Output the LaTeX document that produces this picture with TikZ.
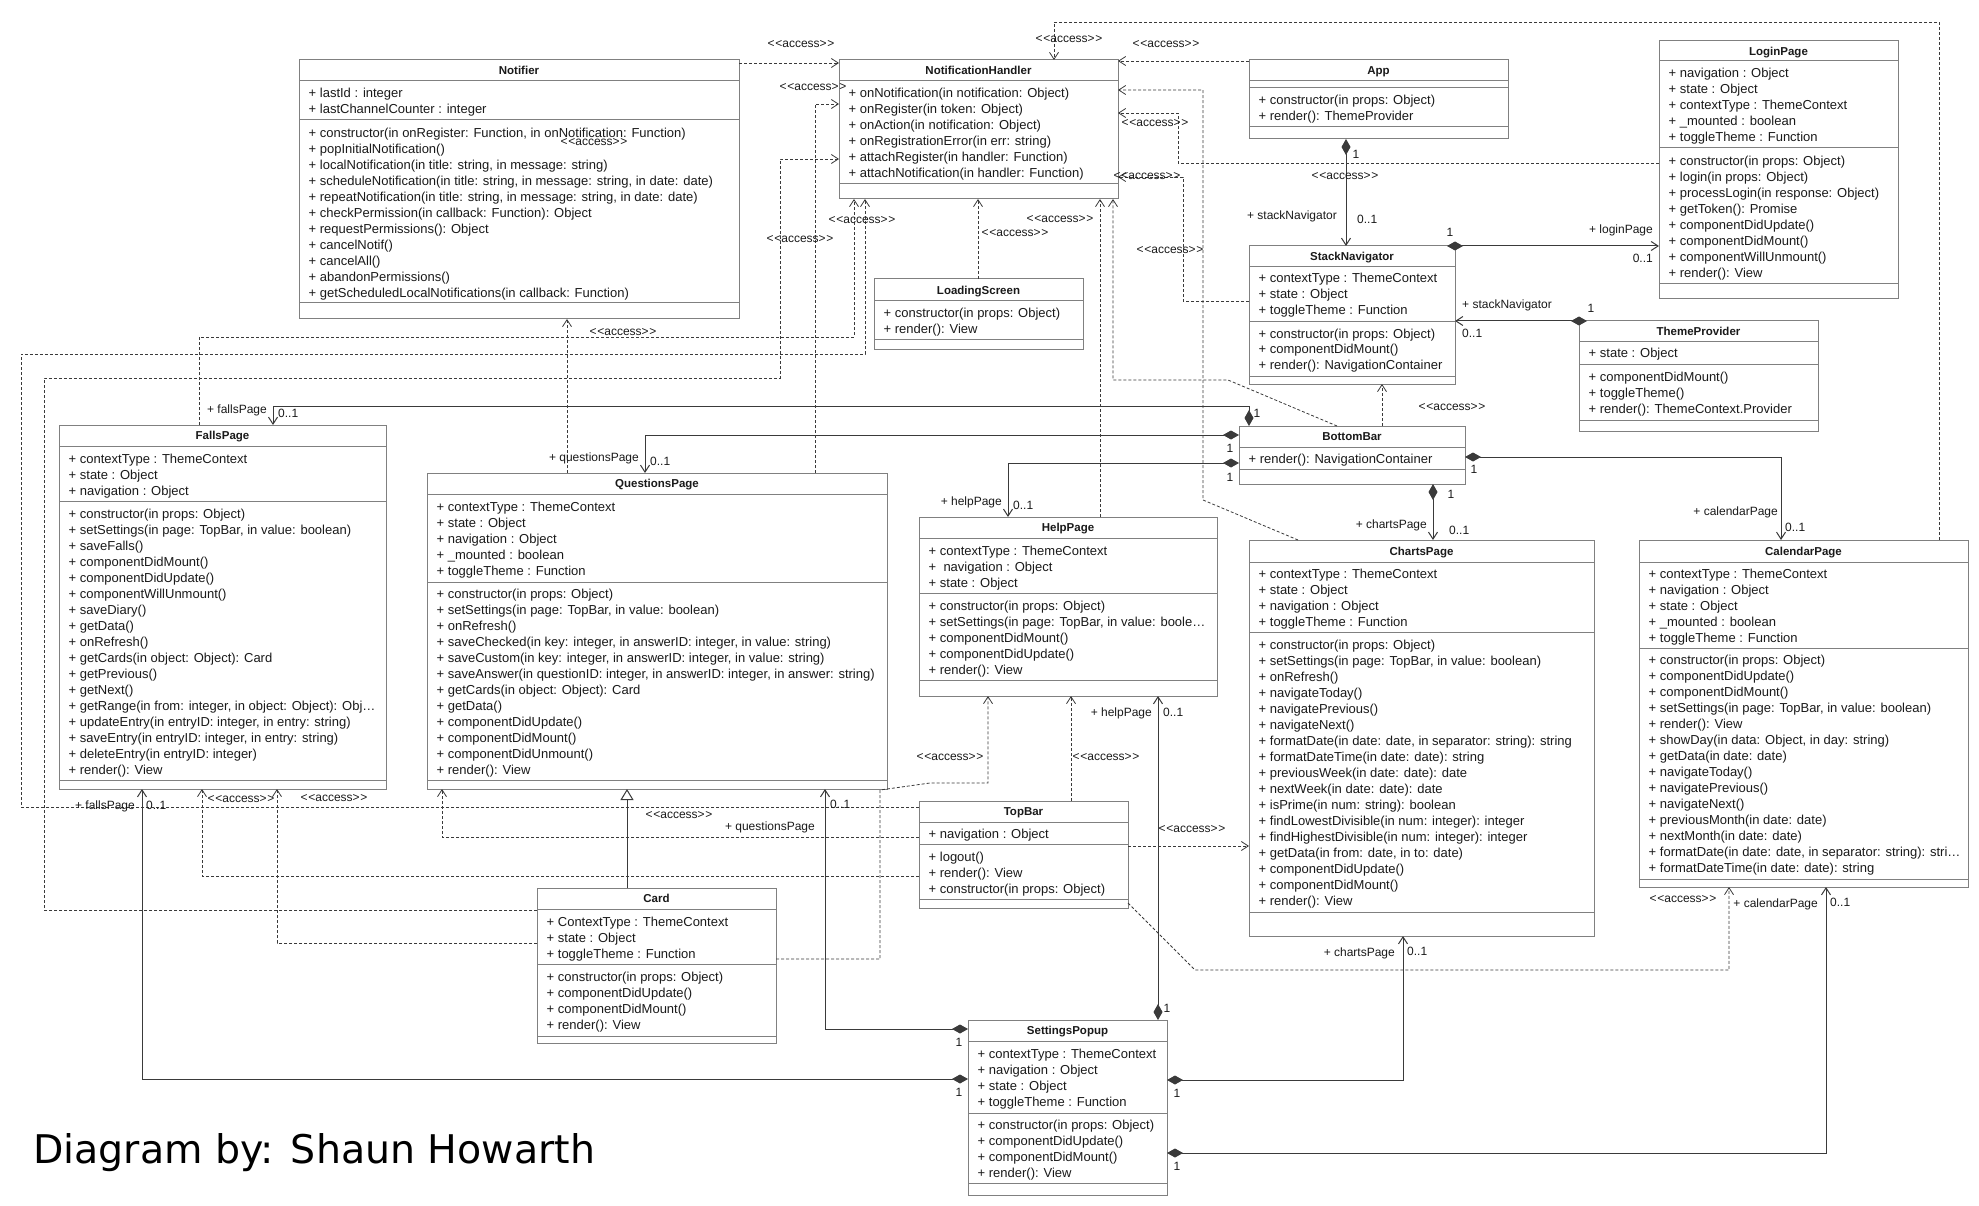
\documentclass[tikz,border=0pt]{standalone}
\usepackage{fontspec}
\setmainfont{Liberation Sans}
\newfontfamily\titlefont{DejaVu Sans}
\usetikzlibrary{arrows.meta,fit}
\definecolor{boxc}{HTML}{808080}
\definecolor{linec}{HTML}{3A3A3A}
\definecolor{txtc}{HTML}{1A1A1A}
\newcommand\accesstxt{<\kern0.6pt<access>\kern0.6pt>}
\tikzset{
 box/.style={draw=boxc, line width=1pt, inner sep=0pt, outer sep=0pt, fill=white},
 sepline/.style={draw=boxc, line width=1pt},
 hdr/.style={anchor=base, inner sep=0pt, font=\fontsize{11.5}{13}\selectfont\bfseries, text=txtc},
 txt/.style={anchor=base west, inner sep=0pt, font=\fontsize{13}{15}\selectfont, text=txtc},
 lbl/.style={inner sep=0pt, font=\fontsize{12}{14}\selectfont, text=txtc},
 assoc/.style={draw=linec, line width=1pt, {Diamond[length=16pt,width=9pt]}-{Straight Barb[length=7pt,width=9pt]}},
 dep/.style={draw=linec, line width=0.8pt, dash pattern=on 3pt off 2pt, -{Straight Barb[length=7pt,width=9pt]}},
 gen/.style={draw=linec, line width=1pt, -{Triangle[open,fill=white,length=11pt,width=13pt]}},
}
\newcommand\umlclass[7]{%
 \node[box, fit={(#2,#3)(#4,#5)}] (#1) {};
 \draw[sepline] (#2,#6) -- (#4,#6);
 \node[hdr] (#1-t) at ({(#2+#4)/2},{(#3+#6)/2+4.2}) {#7};
}
\newcommand\umlsep[3]{\draw[sepline] (#1,#3) -- (#2,#3);}
\newcommand\umlrows[4]{%
 \foreach \t [count=\i from 0] in {#4} {\node[txt] (#1\i) at ({#2+9.5},{#3+16*\i+4.7}) {\t};}
}
\begin{document}
\begin{tikzpicture}[x=1pt,y=-1pt]
\path[use as bounding box, fill=white] (0,0) rectangle (1979,1206);

% ---------- classes ----------
\umlclass{notifier}{299}{60}{739}{319}{81}{Notifier}
\umlsep{299}{739}{120}\umlsep{299}{739}{303}
\umlrows{notA}{299}{93.3}{{+ lastId : integer},{+ lastChannelCounter : integer}}
\umlrows{notM}{299}{133}{{+ constructor(in onRegister: Function, in onNotification: Function)},{+ popInitialNotification()},{+ localNotification(in title: string, in message: string)},{+ scheduleNotification(in title: string, in message: string, in date: date)},{+ repeatNotification(in title: string, in message: string, in date: date)},{+ checkPermission(in callback: Function): Object},{+ requestPermissions(): Object},{+ cancelNotif()},{+ cancelAll()},{+ abandonPermissions()},{+ getScheduledLocalNotifications(in callback: Function)}}

\umlclass{nh}{839}{60}{1118}{199}{81}{NotificationHandler}
\umlsep{839}{1118}{184}
\umlrows{nhM}{839}{93.3}{{+ onNotification(in notification: Object)},{+ onRegister(in token: Object)},{+ onAction(in notification: Object)},{+ onRegistrationError(in err: string)},{+ attachRegister(in handler: Function)},{+ attachNotification(in handler: Function)}}

\umlclass{app}{1249}{60}{1508}{139}{81}{App}
\umlsep{1249}{1508}{88}\umlsep{1249}{1508}{127}
\umlrows{appM}{1249}{100}{{+ constructor(in props: Object)},{+ render(): ThemeProvider}}

\umlclass{login}{1659}{41}{1898}{299}{61}{LoginPage}
\umlsep{1659}{1898}{148}\umlsep{1659}{1898}{284}
\umlrows{loginA}{1659}{73}{{+ navigation : Object},{+ state : Object},{+ contextType : ThemeContext},{+ \_mounted : boolean},{+ toggleTheme : Function}}
\umlrows{loginM}{1659}{161}{{+ constructor(in props: Object)},{+ login(in props: Object)},{+ processLogin(in response: Object)},{+ getToken(): Promise},{+ componentDidUpdate()},{+ componentDidMount()},{+ componentWillUnmount()},{+ render(): View}}

\umlclass{sn}{1249}{246}{1455}{384}{267}{StackNavigator}
\umlsep{1249}{1455}{322}\umlsep{1249}{1455}{376}
\umlrows{snA}{1249}{278.3}{{+ contextType : ThemeContext},{+ state : Object},{+ toggleTheme : Function}}
\umlrows{snM}{1249}{333.3}{{+ constructor(in props: Object)},{+ componentDidMount()},{+ render(): NavigationContainer}}

\umlclass{tp}{1579}{321}{1818}{431}{342}{ThemeProvider}
\umlsep{1579}{1818}{364}\umlsep{1579}{1818}{420}
\umlrows{tpA}{1579}{353}{{+ state : Object}}
\umlrows{tpM}{1579}{376.7}{{+ componentDidMount()},{+ toggleTheme()},{+ render(): ThemeContext.Provider}}

\umlclass{ls}{874}{279}{1083}{350}{301}{LoadingScreen}
\umlsep{874}{1083}{340}
\umlrows{lsM}{874}{313}{{+ constructor(in props: Object)},{+ render(): View}}

\umlclass{falls}{59}{425}{386}{789}{446}{FallsPage}
\umlsep{59}{386}{501}\umlsep{59}{386}{780}
\umlrows{fallsA}{59}{458.3}{{+ contextType : ThemeContext},{+ state : Object},{+ navigation : Object}}
\umlrows{fallsM}{59}{513.7}{{+ constructor(in props: Object)},{+ setSettings(in page: TopBar, in value: boolean)},{+ saveFalls()},{+ componentDidMount()},{+ componentDidUpdate()},{+ componentWillUnmount()},{+ saveDiary()},{+ getData()},{+ onRefresh()},{+ getCards(in object: Object): Card},{+ getPrevious()},{+ getNext()},{+ getRange(in from: integer, in object: Object): Obj…},{+ updateEntry(in entryID: integer, in entry: string)},{+ saveEntry(in entryID: integer, in entry: string)},{+ deleteEntry(in entryID: integer)},{+ render(): View}}

\umlclass{qp}{427}{473}{887}{789}{494}{QuestionsPage}
\umlsep{427}{887}{582}\umlsep{427}{887}{780}
\umlrows{qpA}{427}{506.7}{{+ contextType : ThemeContext},{+ state : Object},{+ navigation : Object},{+ \_mounted : boolean},{+ toggleTheme : Function}}
\umlrows{qpM}{427}{593.3}{{+ constructor(in props: Object)},{+ setSettings(in page: TopBar, in value: boolean)},{+ onRefresh()},{+ saveChecked(in key: integer, in answerID: integer, in value: string)},{+ saveCustom(in key: integer, in answerID: integer, in value: string)},{+ saveAnswer(in questionID: integer, in answerID: integer, in answer: string)},{+ getCards(in object: Object): Card},{+ getData()},{+ componentDidUpdate()},{+ componentDidMount()},{+ componentDidUnmount()},{+ render(): View}}

\umlclass{hp}{919}{517}{1217}{696}{538}{HelpPage}
\umlsep{919}{1217}{593}\umlsep{919}{1217}{680}
\umlrows{hpA}{919}{550.7}{{+ contextType : ThemeContext},{+ ~navigation : Object},{+ state : Object}}
\umlrows{hpM}{919}{605.7}{{+ constructor(in props: Object)},{+ setSettings(in page: TopBar, in value: boole…},{+ componentDidMount()},{+ componentDidUpdate()},{+ render(): View}}

\umlclass{bb}{1239}{426}{1465}{484}{447}{BottomBar}
\umlsep{1239}{1465}{469}
\umlrows{bbM}{1239}{458.7}{{+ render(): NavigationContainer}}

\umlclass{cp}{1249}{540}{1594}{936}{562}{ChartsPage}
\umlsep{1249}{1594}{632}\umlsep{1249}{1594}{912}
\umlrows{cpA}{1249}{573.3}{{+ contextType : ThemeContext},{+ state : Object},{+ navigation : Object},{+ toggleTheme : Function}}
\umlrows{cpM}{1249}{644.3}{{+ constructor(in props: Object)},{+ setSettings(in page: TopBar, in value: boolean)},{+ onRefresh()},{+ navigateToday()},{+ navigatePrevious()},{+ navigateNext()},{+ formatDate(in date: date, in separator: string): string},{+ formatDateTime(in date: date): string},{+ previousWeek(in date: date): date},{+ nextWeek(in date: date): date},{+ isPrime(in num: string): boolean},{+ findLowestDivisible(in num: integer): integer},{+ findHighestDivisible(in num: integer): integer},{+ getData(in from: date, in to: date)},{+ componentDidUpdate()},{+ componentDidMount()},{+ render(): View}}

\umlclass{cal}{1639}{540}{1968}{887}{562}{CalendarPage}
\umlsep{1639}{1968}{648}\umlsep{1639}{1968}{879}
\umlrows{calA}{1639}{573.3}{{+ contextType : ThemeContext},{+ navigation : Object},{+ state : Object},{+ \_mounted : boolean},{+ toggleTheme : Function}}
\umlrows{calM}{1639}{660}{{+ constructor(in props: Object)},{+ componentDidUpdate()},{+ componentDidMount()},{+ setSettings(in page: TopBar, in value: boolean)},{+ render(): View},{+ showDay(in data: Object, in day: string)},{+ getData(in date: date)},{+ navigateToday()},{+ navigatePrevious()},{+ navigateNext()},{+ previousMonth(in date: date)},{+ nextMonth(in date: date)},{+ formatDate(in date: date, in separator: string): stri…},{+ formatDateTime(in date: date): string}}

\umlclass{tb}{919}{801}{1128}{908}{822}{TopBar}
\umlsep{919}{1128}{844}\umlsep{919}{1128}{899}
\umlrows{tbA}{919}{833.3}{{+ navigation : Object}}
\umlrows{tbM}{919}{856.7}{{+ logout()},{+ render(): View},{+ constructor(in props: Object)}}

\umlclass{card}{537}{888}{776}{1043}{909}{Card}
\umlsep{537}{776}{964}\umlsep{537}{776}{1036}
\umlrows{cardA}{537}{921.7}{{+ ContextType : ThemeContext},{+ state : Object},{+ toggleTheme : Function}}
\umlrows{cardM}{537}{976.7}{{+ constructor(in props: Object)},{+ componentDidUpdate()},{+ componentDidMount()},{+ render(): View}}

\umlclass{sp}{968}{1020}{1167}{1195}{1041}{SettingsPopup}
\umlsep{968}{1167}{1113}\umlsep{968}{1167}{1183}
\umlrows{spA}{968}{1053.3}{{+ contextType : ThemeContext},{+ navigation : Object},{+ state : Object},{+ toggleTheme : Function}}
\umlrows{spM}{968}{1124.3}{{+ constructor(in props: Object)},{+ componentDidUpdate()},{+ componentDidMount()},{+ render(): View}}

% ---------- associations ----------
\draw[assoc] (1346,0 |- app.south) -- (1346,0 |- sn.north);
\draw[assoc] ([xshift=-8pt]sn.north east) -- (login.west |- sn.north);
\draw[assoc] ([xshift=8pt]tp.north west) -- (sn.east |- tp.north);
\draw[assoc] (1249,0 |- bb.north) -- (1249,406) -- (273,406) -- (273,0 |- falls.north);
\draw[assoc] (bb.west |- 0,435) -- (645,435) -- (645,0 |- qp.north);
\draw[assoc] (bb.west |- 0,463) -- (1008,463) -- (1008,0 |- hp.north);
\draw[assoc] (1433,0 |- bb.south) -- (1433,0 |- cp.north);
\draw[assoc] (bb.east |- 0,457) -- (1781,457) -- (1781,0 |- cal.north);
\draw[assoc] (1158,0 |- sp.north) -- (1158,0 |- hp.south);
\draw[assoc] (sp.west |- 0,1029) -- (825,1029) -- (825,0 |- qp.south);
\draw[assoc] (sp.west |- 0,1079) -- (142,1079) -- (142,0 |- falls.south);
\draw[assoc] (sp.east |- 0,1080) -- (1403,1080) -- (1403,0 |- cp.south);
\draw[assoc] (sp.east |- 0,1153) -- (1826,1153) -- (1826,0 |- cal.south);
\draw[gen] (627,0 |- card.north) -- (627,0 |- qp.south);

% ---------- dependencies ----------
\draw[dep] (notifier.east |- 0,63) -- (nh.west |- 0,63);
\draw[dep] (1939,0 |- cal.north) -- (1939,22) -- (1054,22) -- (1054,0 |- nh.north);
\draw[dep] (app.west |- 0,61) -- (nh.east |- 0,61);
\draw[dep] (login.west |- 0,163) -- (1178,163) -- (1178,113) -- (nh.east |- 0,113);
\draw[dep] (1298,0 |- cp.north) -- (1203,500) -- (1203,90) -- (nh.east |- 0,90);
\draw[dep] (sn.west |- 0,301) -- (1183,301) -- (1183,177) -- (nh.east |- 0,177);
\draw[dep] (1337,0 |- bb.north) -- (1228,380) -- (1113,380) -- (1113,0 |- nh.south);
\draw[dep] (1100,0 |- hp.north) -- (1100,0 |- nh.south);
\draw[dep] (978,0 |- ls.north) -- (978,0 |- nh.south);
\draw[dep] (815,0 |- qp.north) -- (815,104) -- (nh.west |- 0,104);
\draw[dep] (567,0 |- qp.north) -- (567,0 |- notifier.south);
\draw[dep] (199,0 |- falls.north) -- (199,337) -- (854,337) -- (854,0 |- nh.south);
\draw[dep] (card.west |- 0,910) -- (44,910) -- (44,378) -- (780,378) -- (780,159) -- (nh.west |- 0,159);
\draw[dep] (tb.west |- 0,807) -- (21,807) -- (21,354) -- (865,354) -- (865,0 |- nh.south);
\draw[dep] (1382,0 |- bb.north) -- (1382,0 |- sn.south);
\draw[dep] (tb.west |- 0,876) -- (202,876) -- (202,0 |- falls.south);
\draw[dep] (card.west |- 0,943) -- (277,943) -- (277,0 |- falls.south);
\draw[dep] (tb.west |- 0,837) -- (442,837) -- (442,0 |- qp.south);
\draw[dep] (card.east |- 0,959) -- (880,959) -- (880,790) -- (930,783) -- (988,783) -- (988,0 |- hp.south);
\draw[dep] (1071,0 |- tb.north) -- (1071,0 |- hp.south);
\draw[dep] (tb.east |- 0,846) -- (cp.west |- 0,846);
\draw[dep] (tb.east |- 0,903) -- (1195,970) -- (1729,970) -- (1729,0 |- cal.south);

% ---------- <<access>> labels ----------
\foreach \p [count=\k] in {(801,44),(813,87),(594,142),(1069,39),(1166,44),(1155,123),(1147,176),(1345,176),(1170,250),(1060,219),(1015,233),(800,239),(862,220),(623,332),(1452,407),(241,799),(334,798),(679,815),(950,757),(1106,757),(1192,829),(1683,899)}
 {\node[lbl] (acc\k) at \p {\accesstxt};}

% ---------- role labels ----------
\node[lbl, anchor=east] (r1a) at (1337,216) {+ stackNavigator};
\node[lbl, anchor=west] (r1b) at (1357,219) {0..1};
\node[lbl] (r1c) at (1356,154) {1};
\node[lbl] (r2c) at (1450,232) {1};
\node[lbl, anchor=east] (r2a) at (1653,230) {+ loginPage};
\node[lbl, anchor=east] (r2b) at (1653,258) {0..1};
\node[lbl, anchor=west] (r3a) at (1462,305) {+ stackNavigator};
\node[lbl, anchor=west] (r3b) at (1462,333) {0..1};
\node[lbl] (r3c) at (1591,308) {1};
\node[lbl, anchor=east] (r4a) at (267,410) {+ fallsPage};
\node[lbl, anchor=west] (r4b) at (278,413) {0..1};
\node[lbl] (r4c) at (1257,413) {1};
\node[lbl, anchor=east] (r5a) at (639,458) {+ questionsPage};
\node[lbl, anchor=west] (r5b) at (650,461) {0..1};
\node[lbl] (r5c) at (1230,448) {1};
\node[lbl, anchor=east] (r6a) at (1002,502) {+ helpPage};
\node[lbl, anchor=west] (r6b) at (1013,505) {0..1};
\node[lbl] (r6c) at (1230,477) {1};
\node[lbl] (r7c) at (1451,494) {1};
\node[lbl, anchor=east] (r7a) at (1427,525) {+ chartsPage};
\node[lbl, anchor=west] (r7b) at (1449,530) {0..1};
\node[lbl] (r8c) at (1474,469) {1};
\node[lbl, anchor=east] (r8a) at (1778,512) {+ calendarPage};
\node[lbl, anchor=west] (r8b) at (1785,527) {0..1};
\node[lbl] (r9c) at (1167,1008) {1};
\node[lbl, anchor=east] (r9a) at (1152,713) {+ helpPage};
\node[lbl, anchor=west] (r9b) at (1163,712) {0..1};
\node[lbl, anchor=west] (r10b) at (830,804) {0..1};
\node[lbl, anchor=east] (r10a) at (815,827) {+ questionsPage};
\node[lbl] (r10c) at (959,1042) {1};
\node[lbl, anchor=east] (r11a) at (135,806) {+ fallsPage};
\node[lbl, anchor=west] (r11b) at (146,805) {0..1};
\node[lbl] (r11c) at (959,1092) {1};
\node[lbl, anchor=east] (r12a) at (1395,953) {+ chartsPage};
\node[lbl, anchor=west] (r12b) at (1407,951) {0..1};
\node[lbl] (r12c) at (1177,1093) {1};
\node[lbl, anchor=east] (r13a) at (1818,904) {+ calendarPage};
\node[lbl, anchor=west] (r13b) at (1830,902) {0..1};
\node[lbl] (r13c) at (1177,1166) {1};

% ---------- title ----------
\node[anchor=base west, inner sep=0pt, font=\titlefont\fontsize{39.5}{45}\selectfont] (title) at (33,1163) {Diagram by: Shaun Howarth};
\end{tikzpicture}
\end{document}
